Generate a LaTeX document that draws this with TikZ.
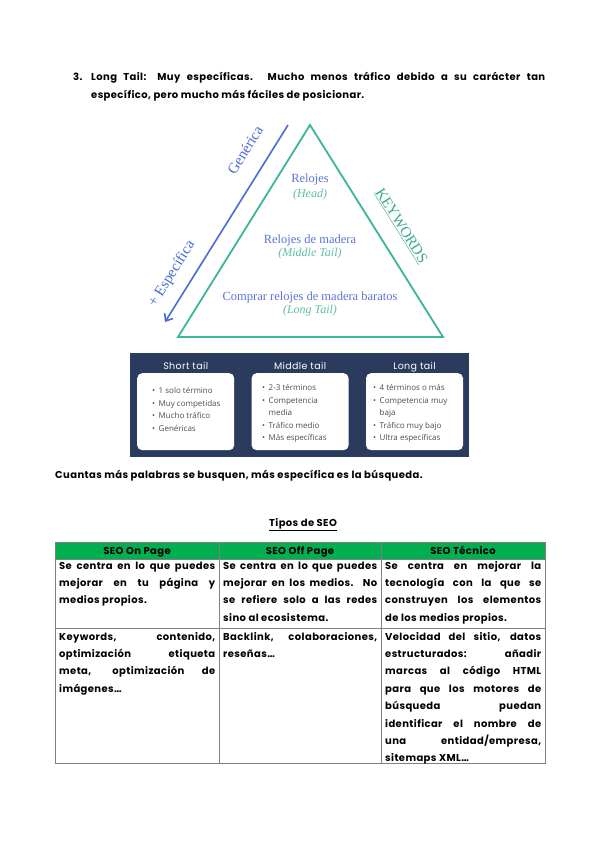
\documentclass[tikz,border=0pt]{standalone}
\usepackage{fontspec}
\setmainfont{Poppins}[LetterSpace=4]
\newfontfamily\cardfont{Open Sans}
\newfontfamily\trifont{Liberation Serif}
\usetikzlibrary{arrows.meta,positioning}
\definecolor{trigreen}{HTML}{3DB59B}
\definecolor{axisblue}{HTML}{4A6BD6}
\definecolor{relblue}{HTML}{5B74D8}
\definecolor{tailgreen}{HTML}{5CBFA6}
\definecolor{kwgreen}{HTML}{3AAA8E}
\definecolor{navy}{HTML}{2A3B5E}
\definecolor{cardgray}{HTML}{4D4D4D}
\definecolor{seogreen}{HTML}{00B050}
\definecolor{rulegray}{HTML}{808080}
\tolerance=9999
\hyphenpenalty=10000
\newcommand\bodyfont{\fontsize{10}{17.4}\selectfont\bfseries}
\newcommand\headfont{\fontsize{10}{18.5}\selectfont\bfseries}
\tikzset{
  tri/.style={draw=trigreen,line width=1.8pt},
  spec/.style={draw=axisblue,line width=1.6pt,-{Straight Barb[length=6pt,width=10pt]}},
  axislbl/.style={font=\trifont\fontsize{15}{15}\selectfont,text=axisblue,inner sep=0pt},
  kwlbl/.style={font=\trifont\fontsize{15}{15}\selectfont,text=kwgreen,inner sep=0pt},
  lvltxt/.style={font=\trifont\fontsize{12.5}{12.5}\selectfont,text=relblue,inner sep=0pt},
  tailtxt/.style={font=\trifont\itshape\fontsize{12}{12}\selectfont,text=tailgreen,inner sep=0pt},
  panel/.style={fill=navy,minimum width=339pt,minimum height=104pt,anchor=north west,inner sep=0pt},
  card/.style={fill=white,rounded corners=5pt,minimum width=97pt,minimum height=77pt,
    anchor=north west,inner sep=0pt},
  cardhead/.style={font=\fontsize{9.5}{9.5}\selectfont,text=white,inner sep=0pt,text depth=0pt},
  bullets/.style={font=\cardfont\fontsize{8}{12.4}\selectfont,text=cardgray,anchor=north west,inner sep=0pt},
  para/.style={anchor=north west,inner sep=0pt,align=justify,font=\bodyfont},
  thead/.style={font=\bodyfont,inner sep=0pt,anchor=base},
  tablerule/.style={draw=rulegray,line width=0.9pt},
}

\begin{document}
\begin{tikzpicture}[x=1pt,y=-1pt]
\fill[white] (0,0) rectangle (599,848);
\useasboundingbox (0,0) rectangle (599,848);

\node[para,font=\headfont,align=left] (num) at (73,80-12.95) {\strut 3.};
\node[para,font=\headfont,text width=454pt] (intro) at (91,80-12.95)
  {\strut Long Tail: Muy específicas. Mucho menos tráfico debido a su carácter tan\linebreak
   específico, pero mucho más fáciles de posicionar.};

\coordinate (apex) at (310,125);
\coordinate (bl) at (178,337);
\coordinate (br) at (443,337);
\draw[tri] (apex) -- (br) -- (bl) -- cycle;
\coordinate (gtop) at (288,125);
\coordinate (gbot) at (165,322);
\draw[spec] (gtop) -- (gbot);

\node[axislbl,rotate=58] (gen) at (245,150) {Genérica};
\node[axislbl,rotate=58] (esp) at (172,274) {+ Específica};
\node[kwlbl,rotate=-58] (kw) at (401,226) {\underline{KEYWORDS}};

\node[lvltxt] (head) at (310,179) {Relojes};
\node[tailtxt] (headt) at (310,195) {(Head)};
\node[lvltxt] (mid) at (310,240) {Relojes de madera};
\node[tailtxt] (midt) at (310,254) {(Middle Tail)};
\node[lvltxt] (long) at (310,297) {Comprar relojes de madera baratos};
\node[tailtxt] (longt) at (310,311) {(Long Tail)};

\node[panel] (panel) at (130,353) {};
\node[card] (c1) at (137,373) {};
\node[card,right=17pt of c1] (c2) {};
\node[card,right=17pt of c2] (c3) {};
\node[cardhead,above=3pt of c1] (h1) {Short tail};
\node[cardhead,above=3pt of c2] (h2) {Middle tail};
\node[cardhead,above=3pt of c3] (h3) {Long tail};
\node[bullets] (l1) at (152,385) {\begin{tabular}[t]{@{}l@{\hspace{3.5pt}}l@{}}
  \textbullet & 1 solo término\\ \textbullet & Muy competidas\\
  \textbullet & Mucho tráfico\\ \textbullet & Genéricas\end{tabular}};
\node[bullets] (l2) at (262,382) {\begin{tabular}[t]{@{}l@{\hspace{3.5pt}}l@{}}
  \textbullet & 2-3 términos\\ \textbullet & Competencia\\ & media\\
  \textbullet & Tráfico medio\\ \textbullet & Más específicas\end{tabular}};
\node[bullets] (l3) at (373,382) {\begin{tabular}[t]{@{}l@{\hspace{3.5pt}}l@{}}
  \textbullet & 4 términos o más\\ \textbullet & Competencia muy\\ & baja\\
  \textbullet & Tráfico muy bajo\\ \textbullet & Ultra específicas\end{tabular}};

\node[anchor=base west,inner sep=0pt,font=\bodyfont] (concl) at (55,478)
  {Cuantas más palabras se busquen, más específica es la búsqueda.};
\node[anchor=base,inner sep=0pt,font=\bodyfont] (tipos) at (303,526) {\underline{Tipos de SEO}};

\fill[seogreen] (55,542) rectangle (545,559);
\draw[tablerule] (55,542) rectangle (545,763);
\draw[tablerule] (55,559) -- (545,559);
\draw[tablerule] (55,628) -- (545,628);
\draw[tablerule] (219,542) -- (219,763);
\draw[tablerule] (381,542) -- (381,763);
\node[thead] (th1) at (137,554.5) {SEO On Page};
\node[thead] (th2) at (300,554.5) {SEO Off Page};
\node[thead] (th3) at (463,554.5) {SEO Técnico};

\node[para,text width=156pt] (r1c1) at (59,556.8)
  {\strut Se centra en lo que puedes\linebreak mejorar en tu página y\linebreak medios propios.};
\node[para,text width=154pt] (r1c2) at (223,556.8)
  {\strut Se centra en lo que puedes\linebreak mejorar en los medios. No\linebreak
   se refiere solo a las redes\linebreak sino al ecosistema.};
\node[para,text width=156pt] (r1c3) at (385,556.8)
  {\strut Se centra en mejorar la\linebreak tecnología con la que se\linebreak
   construyen los elementos\linebreak de los medios propios.};
\node[para,text width=156pt] (r2c1) at (59,627.8)
  {\strut Keywords, contenido,\linebreak optimización etiqueta\linebreak
   meta, optimización de\linebreak imágenes…};
\node[para,text width=154pt] (r2c2) at (223,627.8)
  {\strut Backlink, colaboraciones,\linebreak reseñas…};
\node[para,text width=156pt] (r2c3) at (385,627.8)
  {\strut Velocidad del sitio, datos\linebreak estructurados: añadir\linebreak
   marcas al código HTML\linebreak para que los motores de\linebreak
   búsqueda puedan\linebreak identificar el nombre de\linebreak
   una entidad/empresa,\linebreak sitemaps XML…};
\end{tikzpicture}
\end{document}
